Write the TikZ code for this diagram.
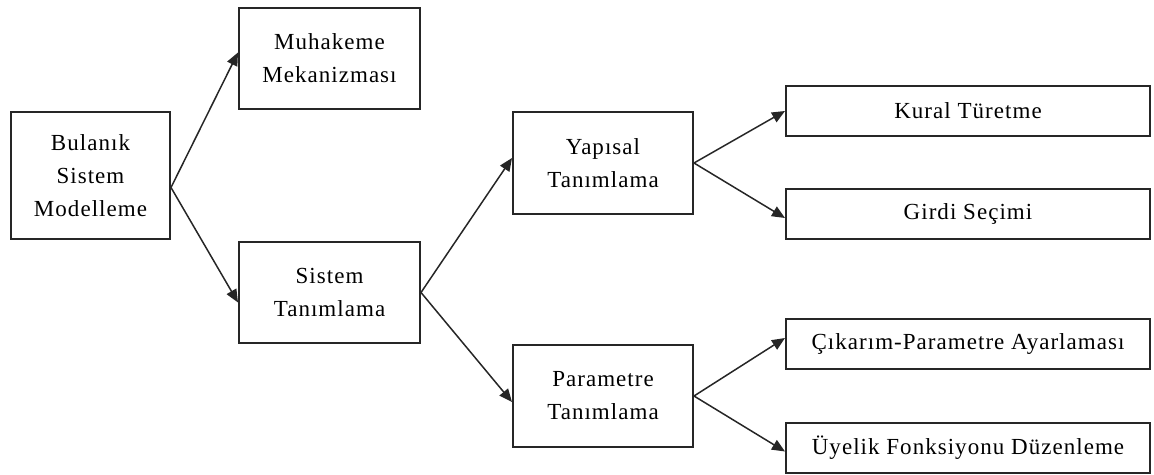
\documentclass[tikz,border=0pt]{standalone}
\usepackage{fontspec}
\setmainfont[LetterSpace=4.5]{Liberation Serif}
\usetikzlibrary{arrows.meta}
\begin{document}
\begin{tikzpicture}[x=1pt,y=-1pt,
  box/.style={draw=black!85,line width=2pt,align=center,inner sep=0pt,
    font=\fontsize{23}{33}\selectfont},
  wide/.style={box,minimum width=364pt,minimum height=50pt},
  link/.style={draw=black!85,line width=1.5pt,-{Triangle[length=13pt,width=11pt]}}]
\useasboundingbox (0,0) rectangle (1154,474);
% root and first level
\node[box,minimum width=159pt,minimum height=127pt] (B) at (90.5,175.5) {Bulanık\\Sistem\\Modelleme};
\node[box,minimum width=181pt,minimum height=101pt] (M) at (329.5,58.5) {Muhakeme\\Mekanizması};
\node[box,minimum width=181pt,minimum height=101pt] (S) at (329.5,292.5) {Sistem\\Tanımlama};
% second level
\node[box,minimum width=180pt,minimum height=102pt] (Y) at (603,163) {Yapısal\\Tanımlama};
\node[box,minimum width=180pt,minimum height=102pt] (P) at (603,396) {Parametre\\Tanımlama};
% leaves
\node[wide] (K) at (968,111) {Kural Türetme};
\node[wide] (G) at (968,214) {Girdi Seçimi};
\node[wide] (C) at (968,344) {Çıkarım-Parametre Ayarlaması};
\node[wide] (U) at (968,447.5) {Üyelik Fonksiyonu Düzenleme};
% connectors
\draw[link] ([yshift=-12pt]B.east) -- ([yshift=6pt]M.west);
\draw[link] ([yshift=-12pt]B.east) -- ([yshift=-10pt]S.west);
\draw[link] (S.east) -- ([yshift=5pt]Y.west);
\draw[link] (S.east) -- ([yshift=-6pt]P.west);
\draw[link] (Y.east) -- (K.west);
\draw[link] (Y.east) -- ([yshift=-4pt]G.west);
\draw[link] (P.east) -- ([yshift=6pt]C.west);
\draw[link] (P.east) -- ([yshift=-4pt]U.west);
\end{tikzpicture}
\end{document}
